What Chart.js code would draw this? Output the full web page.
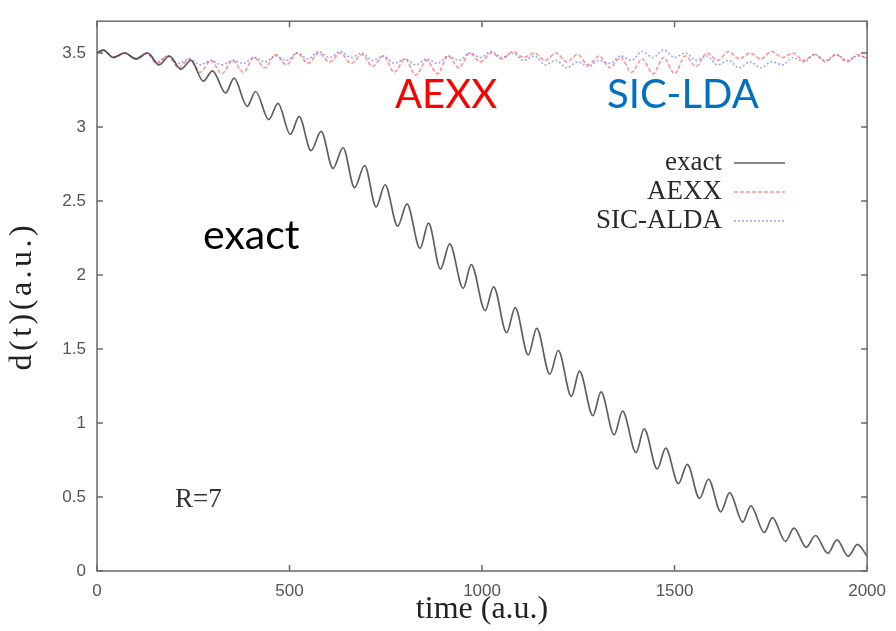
<!DOCTYPE html>
<html>
<head>
<meta charset="utf-8">
<script src="https://cdn.jsdelivr.net/npm/chart.js@4/dist/chart.umd.min.js"></script>
<style>
  html, body { margin: 0; padding: 0; background: #fff; }
  canvas { display: block; }
</style>
</head>
<body>
<canvas id="c" width="896" height="631"></canvas>
<script>
// ---- data ----
const exactT = [0, 16, 42, 72, 102, 132, 161, 188, 218, 244, 276, 300, 334, 356, 390, 412, 446, 470, 502, 525, 556, 582, 613, 639, 669, 695, 725, 748, 781, 805, 839, 861, 892, 916, 951, 972, 1008, 1030, 1064, 1086, 1120, 1142, 1176, 1198, 1232, 1253, 1288, 1309, 1343, 1365, 1400, 1421, 1455, 1477, 1510, 1533, 1565, 1588, 1620, 1643, 1677, 1698, 1733, 1754, 1788, 1810, 1842, 1866, 1898, 1922, 1951, 1975, 2000];
const exactD = [3.50, 3.52, 3.47, 3.50, 3.46, 3.50, 3.42, 3.48, 3.39, 3.45, 3.31, 3.38, 3.23, 3.33, 3.14, 3.24, 3.05, 3.16, 2.95, 3.07, 2.84, 2.97, 2.72, 2.86, 2.59, 2.74, 2.46, 2.61, 2.33, 2.48, 2.18, 2.35, 2.04, 2.21, 1.91, 2.07, 1.76, 1.92, 1.61, 1.78, 1.46, 1.64, 1.33, 1.49, 1.18, 1.35, 1.05, 1.21, 0.92, 1.08, 0.80, 0.96, 0.69, 0.83, 0.59, 0.72, 0.49, 0.62, 0.40, 0.53, 0.33, 0.44, 0.26, 0.36, 0.20, 0.29, 0.16, 0.24, 0.12, 0.21, 0.10, 0.18, 0.10];

const modelT = [0, 16, 44, 72, 100, 128, 156, 184, 212, 240, 268, 296, 324, 352, 380, 408, 436, 464, 492, 520, 548, 576, 604, 632, 660, 688, 716, 744, 772, 800, 828, 856, 884, 912, 940, 968, 996, 1024, 1052, 1080, 1108, 1136, 1164, 1192, 1220, 1248, 1276, 1304, 1332, 1360, 1388, 1416, 1444, 1472, 1500, 1528, 1556, 1584, 1612, 1640, 1668, 1696, 1724, 1752, 1780, 1808, 1836, 1864, 1892, 1920, 1948, 1976, 2000];
const aexxD = [3.50, 3.52, 3.47, 3.50, 3.46, 3.50, 3.43, 3.48, 3.40, 3.46, 3.37, 3.45, 3.36, 3.45, 3.37, 3.47, 3.40, 3.49, 3.42, 3.50, 3.43, 3.50, 3.44, 3.50, 3.43, 3.49, 3.41, 3.48, 3.37, 3.46, 3.35, 3.45, 3.36, 3.48, 3.40, 3.50, 3.44, 3.50, 3.46, 3.51, 3.47, 3.50, 3.45, 3.50, 3.44, 3.49, 3.42, 3.48, 3.40, 3.47, 3.37, 3.46, 3.36, 3.47, 3.36, 3.48, 3.41, 3.50, 3.45, 3.51, 3.46, 3.50, 3.46, 3.51, 3.47, 3.50, 3.45, 3.49, 3.44, 3.49, 3.44, 3.49, 3.46];
const sicD = [3.50, 3.52, 3.47, 3.50, 3.46, 3.50, 3.44, 3.48, 3.43, 3.46, 3.42, 3.45, 3.42, 3.45, 3.43, 3.47, 3.44, 3.48, 3.45, 3.50, 3.46, 3.51, 3.47, 3.51, 3.47, 3.50, 3.45, 3.48, 3.43, 3.46, 3.42, 3.46, 3.43, 3.48, 3.45, 3.50, 3.47, 3.51, 3.47, 3.50, 3.45, 3.48, 3.42, 3.45, 3.40, 3.44, 3.41, 3.45, 3.43, 3.48, 3.45, 3.51, 3.47, 3.52, 3.47, 3.50, 3.45, 3.48, 3.42, 3.45, 3.40, 3.44, 3.40, 3.44, 3.42, 3.47, 3.44, 3.49, 3.45, 3.49, 3.45, 3.48, 3.47];

const seriesLabels = ['exact', 'AEXX', 'SIC-ALDA'];
const xTicks = [0, 500, 1000, 1500, 2000];
const yTicks = [0, 0.5, 1, 1.5, 2, 2.5, 3, 3.5];
const xTitle = 'time (a.u.)';
const yTitle = 'd(t)(a.u.)';
const notes = [
  { text: 'AEXX', color: '#ff0000', x: 395, y: 108, font: '40px Lato' },
  { text: 'SIC-LDA', color: '#0070c0', x: 607, y: 108, font: '40px Lato' },
  { text: 'exact', color: '#000000', x: 203, y: 249, font: '41px Lato' },
  { text: 'R=7', color: '#333333', x: 175, y: 507, font: '27px "Liberation Serif"' }
];

const toXY = (ts, vs) => ts.map((t, i) => ({ x: t, y: vs[i] }));

const framePlugin = {
  id: 'frame',
  beforeDraw(chart) {
    // wide letter spacing used by the y-axis title (drawn in the first layer)
    chart.ctx.letterSpacing = '3.5px';
  },
  beforeDatasetsDraw(chart) {
    chart.ctx.letterSpacing = '0px';
  },
  afterDatasetsDraw(chart) {
    const ctx = chart.ctx;
    const { left, right, top, bottom } = chart.chartArea;
    const xs = chart.scales.x, ys = chart.scales.y;
    ctx.save();
    ctx.strokeStyle = '#6a6a6a';
    ctx.lineWidth = 1.5;
    ctx.strokeRect(left, top, right - left, bottom - top);
    ctx.beginPath();
    ys.ticks.forEach(t => {
      const py = ys.getPixelForValue(t.value);
      ctx.moveTo(left, py); ctx.lineTo(left + 6, py);
      ctx.moveTo(right, py); ctx.lineTo(right - 6, py);
    });
    xs.ticks.forEach(t => {
      const px = xs.getPixelForValue(t.value);
      ctx.moveTo(px, bottom); ctx.lineTo(px, bottom - 6);
      ctx.moveTo(px, top); ctx.lineTo(px, top + 6);
    });
    ctx.stroke();
    ctx.restore();
  },
  afterDraw(chart) {
    const ctx = chart.ctx;
    ctx.save();
    // legend
    const rows = [163, 192, 221];
    ctx.font = '27px "Liberation Serif"';
    ctx.textAlign = 'right';
    ctx.textBaseline = 'middle';
    chart.data.datasets.forEach((ds, i) => {
      ctx.fillStyle = '#2a2a2a';
      ctx.fillText(ds.label, 722, rows[i]);
      ctx.strokeStyle = ds.borderColor;
      ctx.lineWidth = ds.borderWidth;
      ctx.setLineDash(ds.borderDash || []);
      ctx.beginPath();
      ctx.moveTo(734, rows[i]);
      ctx.lineTo(785, rows[i]);
      ctx.stroke();
    });
    ctx.setLineDash([]);
    // annotations
    ctx.textAlign = 'left';
    ctx.textBaseline = 'alphabetic';
    notes.forEach(n => {
      ctx.font = n.font;
      ctx.fillStyle = n.color;
      ctx.fillText(n.text, n.x, n.y);
    });
    ctx.restore();
  }
};

new Chart(document.getElementById('c'), {
  type: 'line',
  data: {
    datasets: [
      { label: seriesLabels[0], data: toXY(exactT, exactD), borderColor: 'rgba(55,55,55,0.8)', borderWidth: 1.7, pointRadius: 0, cubicInterpolationMode: 'monotone', borderDash: [] },
      { label: seriesLabels[1], data: toXY(modelT, aexxD), borderColor: 'rgba(255,60,60,0.55)', borderWidth: 1.6, pointRadius: 0, cubicInterpolationMode: 'monotone', borderDash: [4, 2] },
      { label: seriesLabels[2], data: toXY(modelT, sicD), borderColor: 'rgba(70,70,255,0.5)', borderWidth: 1.6, pointRadius: 0, cubicInterpolationMode: 'monotone', borderDash: [2, 2] }
    ]
  },
  options: {
    responsive: false,
    animation: false,
    events: [],
    layout: { padding: { left: 0, right: 23, top: 10, bottom: 0 } },
    plugins: { legend: { display: false }, tooltip: { enabled: false }, title: { display: false } },
    scales: {
      x: {
        type: 'linear', min: 0, max: 2000,
        afterBuildTicks: s => { s.ticks = xTicks.map(v => ({ value: v })); },
        afterFit: s => { s.height = 60; },
        grid: { display: false, drawTicks: false, z: 1 },
        border: { display: false },
        ticks: { z: 1, padding: 10, color: '#555', font: { family: '"Liberation Sans"', size: 17 }, maxRotation: 0, callback: v => String(v) },
        title: { display: true, text: xTitle, color: '#222', font: { family: '"Liberation Serif"', size: 32 }, padding: { top: 0, bottom: 2 } }
      },
      y: {
        type: 'linear', min: 0, max: 3.715,
        afterBuildTicks: s => { s.ticks = yTicks.map(v => ({ value: v })); },
        afterFit: s => { s.width = 97; },
        grid: { display: false, drawTicks: false, z: -1 },
        border: { display: false },
        ticks: { z: 1, padding: 11, color: '#555', font: { family: '"Liberation Sans"', size: 17 }, callback: v => String(v) },
        title: { display: true, text: yTitle, color: '#222', font: { family: '"Liberation Serif"', size: 32 }, padding: { top: 3, bottom: 0 } }
      }
    }
  },
  plugins: [framePlugin]
});
</script>
</body>
</html>
